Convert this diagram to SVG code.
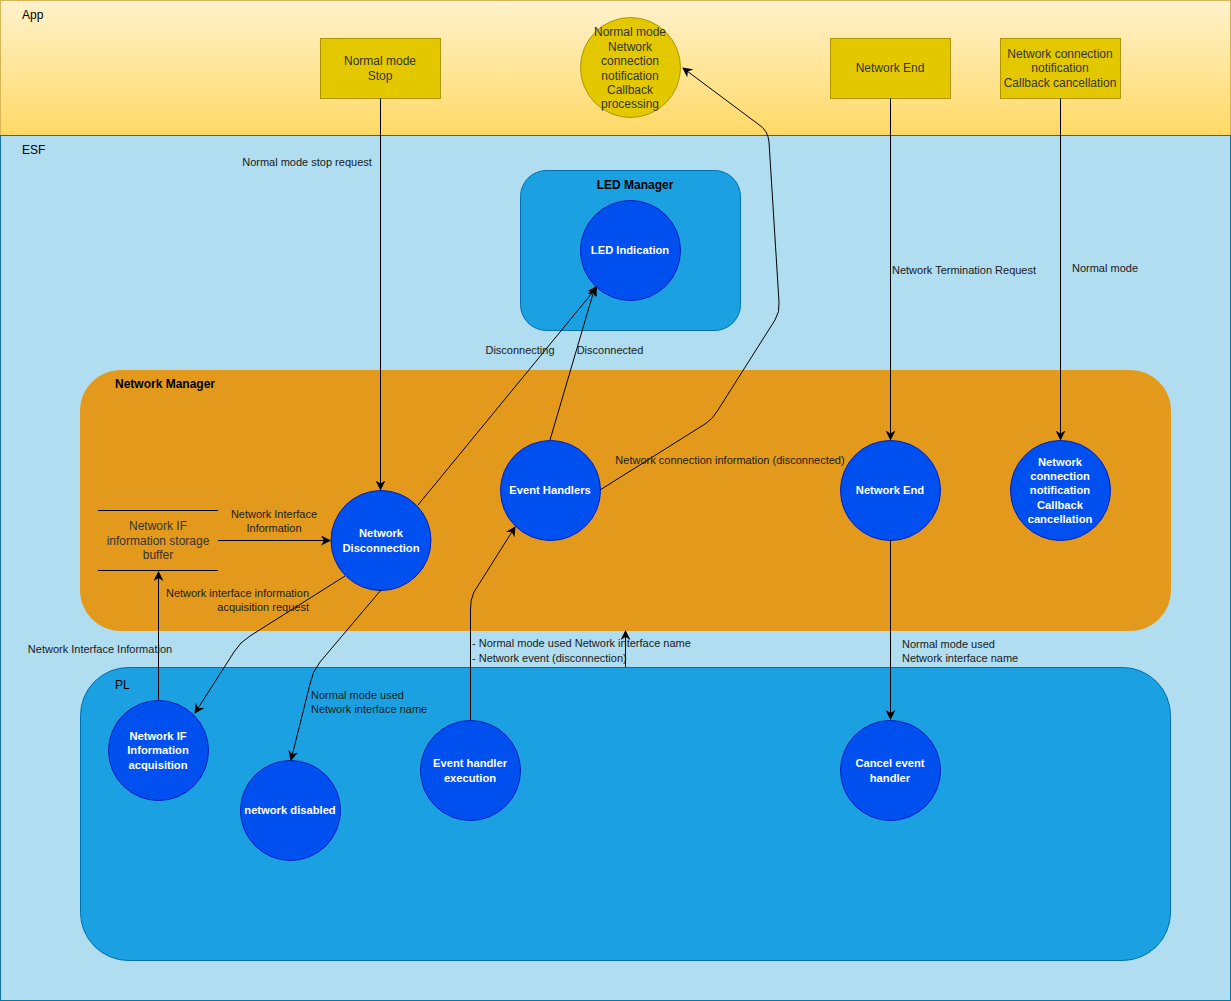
<svg xmlns="http://www.w3.org/2000/svg" width="1231" height="1001" viewBox="0 0 1231 1001">
<defs>
<linearGradient id="appg" x1="0" y1="0" x2="0" y2="1">
<stop offset="0" stop-color="#fff2cc"/>
<stop offset="1" stop-color="#ffd966"/>
</linearGradient>
<marker id="arr" viewBox="0 0 10 10" refX="9" refY="5" markerWidth="10" markerHeight="10" markerUnits="userSpaceOnUse" orient="auto">
<path d="M0,0 L10,5 L0,10 L3,5 Z" fill="#000"/>
</marker>
</defs>
<style>
text{font-family:"Liberation Sans",Arial,sans-serif;}
.lbl{font-size:11px;fill:#1a1a1a;}
.lane{font-size:12px;fill:#000;}
.bold{font-weight:bold;}
.ctext{font-size:11.2px;font-weight:bold;fill:#fff;text-anchor:middle;}
.ytext{font-size:12px;fill:#333;text-anchor:middle;}
.proc{fill:#0050ef;stroke:#001DBC;}
.ybox{fill:#e3c800;stroke:#B09500;}
.edge{fill:none;stroke:#000;stroke-width:1;}
</style>
<g id="lane-app">
<rect x="0.5" y="0.5" width="1230" height="135" fill="url(#appg)" stroke="#d6b656"/>
<text class="lane" x="22" y="19">App</text>
</g>
<g id="lane-esf">
<rect x="0.5" y="135.5" width="1230" height="865" fill="#b1ddf0" stroke="#10739e"/>
<text class="lane" x="22" y="154">ESF</text>
</g>
<g id="led-manager">
<rect x="520.5" y="170.5" width="220" height="160" rx="26" fill="#1ba1e2" stroke="#006EAF"/>
<text class="lane bold" x="635" y="189" text-anchor="middle">LED Manager</text>
</g>
<g id="network-manager">
<rect x="80.5" y="370.5" width="1090" height="260" rx="40" fill="#e39a1c" stroke="#e39a1c"/>
<text class="lane bold" x="115" y="388">Network Manager</text>
</g>
<g id="pl">
<rect x="80.5" y="667.5" width="1090" height="293" rx="48" fill="#1ba1e2" stroke="#006EAF"/>
<text class="lane" x="115" y="689">PL</text>
</g>
<g id="normal-mode-stop">
<rect class="ybox" x="320.5" y="38.5" width="120" height="60"/>
<text class="ytext" x="380" y="65">Normal mode</text>
<text class="ytext" x="380" y="80">Stop</text>
</g>
<g id="callback-processing">
<circle class="ybox" cx="630.5" cy="67.5" r="50"/>
<text class="ytext" x="630" y="36">Normal mode</text>
<text class="ytext" x="630" y="51">Network</text>
<text class="ytext" x="630" y="65">connection</text>
<text class="ytext" x="630" y="80">notification</text>
<text class="ytext" x="630" y="94">Callback</text>
<text class="ytext" x="630" y="108">processing</text>
</g>
<g id="network-end-box">
<rect class="ybox" x="830.5" y="38.5" width="120" height="60"/>
<text class="ytext" x="890" y="72">Network End</text>
</g>
<g id="callback-cancel-box">
<rect class="ybox" x="1000.5" y="38.5" width="120" height="60"/>
<text class="ytext" x="1060" y="58">Network connection</text>
<text class="ytext" x="1060" y="72">notification</text>
<text class="ytext" x="1060" y="87">Callback cancellation</text>
</g>
<g id="led-indication">
<circle class="proc" cx="630.5" cy="250.5" r="50"/>
<text class="ctext" x="630" y="254">LED Indication</text>
</g>
<g id="buffer">
<line x1="98" y1="510.5" x2="218" y2="510.5" stroke="#000"/>
<line x1="98" y1="570.5" x2="218" y2="570.5" stroke="#000"/>
<text class="ytext" x="158" y="530">Network IF</text>
<text class="ytext" x="158" y="545">information storage</text>
<text class="ytext" x="158" y="559">buffer</text>
</g>
<g id="network-disconnection">
<circle class="proc" cx="381" cy="540.5" r="50"/>
<text class="ctext" x="381" y="537">Network</text>
<text class="ctext" x="381" y="552">Disconnection</text>
</g>
<g id="event-handlers">
<circle class="proc" cx="550.5" cy="490.5" r="50"/>
<text class="ctext" x="550" y="494">Event Handlers</text>
</g>
<g id="network-end">
<circle class="proc" cx="890.5" cy="490.5" r="50"/>
<text class="ctext" x="890" y="494">Network End</text>
</g>
<g id="callback-cancel">
<circle class="proc" cx="1060.5" cy="490.5" r="50"/>
<text class="ctext" x="1060" y="466">Network</text>
<text class="ctext" x="1060" y="480">connection</text>
<text class="ctext" x="1060" y="494">notification</text>
<text class="ctext" x="1060" y="509">Callback</text>
<text class="ctext" x="1060" y="523">cancellation</text>
</g>
<g id="netif-acquisition">
<circle class="proc" cx="158.5" cy="750.5" r="50"/>
<text class="ctext" x="158" y="740">Network IF</text>
<text class="ctext" x="158" y="754">Information</text>
<text class="ctext" x="158" y="769">acquisition</text>
</g>
<g id="network-disabled">
<circle class="proc" cx="290.5" cy="810.5" r="50"/>
<text class="ctext" x="290" y="814">network disabled</text>
</g>
<g id="event-handler-execution">
<circle class="proc" cx="470.5" cy="770.5" r="50"/>
<text class="ctext" x="470" y="767">Event handler</text>
<text class="ctext" x="470" y="782">execution</text>
</g>
<g id="cancel-event-handler">
<circle class="proc" cx="890.5" cy="770.5" r="50"/>
<text class="ctext" x="890" y="767">Cancel event</text>
<text class="ctext" x="890" y="782">handler</text>
</g>
<g id="connectors">
<path class="edge" d="M380.5,98.5 V489.5" marker-end="url(#arr)"/>
<path class="edge" d="M890.5,98.5 V439.5" marker-end="url(#arr)"/>
<path class="edge" d="M1060.5,98.5 V439.5" marker-end="url(#arr)"/>
<path class="edge" d="M218,540.5 H330" marker-end="url(#arr)"/>
<path class="edge" d="M158.5,700 V572" marker-end="url(#arr)"/>
<path class="edge" d="M345,576 L250,636 Q240,642 234,652 L195,713" marker-end="url(#arr)"/>
<path class="edge" d="M381,590 L320,662 Q312,672 310,684 L291,760" marker-end="url(#arr)"/>
<path class="edge" d="M418,505 L597,287" marker-end="url(#arr)"/>
<path class="edge" d="M550,440 L595,287" marker-end="url(#arr)"/>
<path class="edge" d="M600,490 L705,424 Q713,419 718,410 L775,320 Q780,312 779,302 L769,142 Q768,130 758,124 L683,68" marker-end="url(#arr)"/>
<path class="edge" d="M470.5,720 V610 Q470,600 474,592 L515,527" marker-end="url(#arr)"/>
<path class="edge" d="M625.5,667 V631" marker-end="url(#arr)"/>
<path class="edge" d="M890.5,540 V719" marker-end="url(#arr)"/>
</g>
<g id="labels">
<text class="lbl" x="307" y="166" text-anchor="middle">Normal mode stop request</text>
<text class="lbl" x="964" y="274" text-anchor="middle">Network Termination Request</text>
<text class="lbl" x="1105" y="272" text-anchor="middle">Normal mode</text>
<text class="lbl" x="274" y="518" text-anchor="middle">Network Interface</text>
<text class="lbl" x="274" y="532" text-anchor="middle">Information</text>
<text class="lbl" x="100" y="653" text-anchor="middle">Network Interface Information</text>
<text class="lbl" x="309" y="597" text-anchor="end">Network interface information</text>
<text class="lbl" x="309" y="611" text-anchor="end">acquisition request</text>
<text class="lbl" x="311" y="699">Normal mode used</text>
<text class="lbl" x="311" y="713">Network interface name</text>
<text class="lbl" x="520" y="354" text-anchor="middle">Disconnecting</text>
<text class="lbl" x="610" y="354" text-anchor="middle">Disconnected</text>
<text class="lbl" x="730" y="464" text-anchor="middle">Network connection information (disconnected)</text>
<text class="lbl" x="472" y="647">- Normal mode used Network interface name</text>
<text class="lbl" x="472" y="662">- Network event (disconnection)</text>
<text class="lbl" x="902" y="648">Normal mode used</text>
<text class="lbl" x="902" y="662">Network interface name</text>
</g>
</svg>
